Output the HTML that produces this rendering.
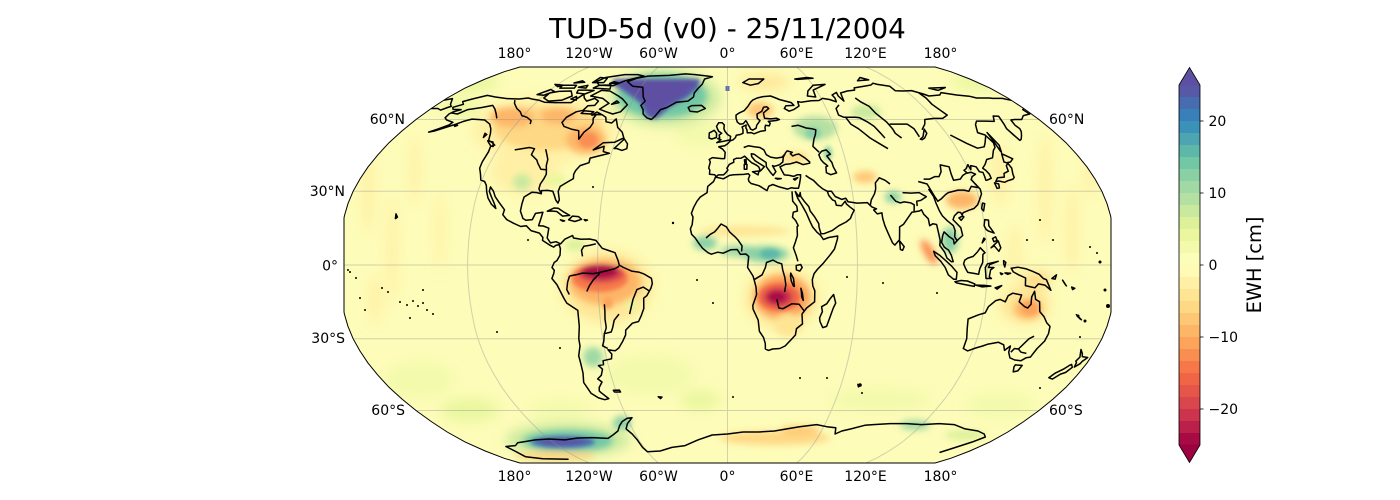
<!DOCTYPE html>
<html><head><meta charset="utf-8">
<style>
html,body{margin:0;padding:0;background:#fff;}
svg{display:block;}
text{font-family:"DejaVu Sans","Liberation Sans",sans-serif;fill:#000;}
</style></head>
<body>
<svg id="svg" width="1400" height="500" viewBox="0 0 1400 500" xmlns="http://www.w3.org/2000/svg">
<defs>
<clipPath id="mc"><path d="M519.9,67 L504.3,71.7 L485.2,79 L465,88.1 L447.2,98 L431.2,108.5 L416,119.5 L401.9,131 L389,142.7 L378,154.7 L368.1,166.8 L359.9,179.1 L353.1,191.3 L348,203.6 L344.4,215.9 L344,218 L344,312 L344.4,314.1 L348,326.4 L353.1,338.7 L359.9,350.9 L368.1,363.2 L378,375.3 L389,387.3 L401.9,399 L416,410.5 L431.2,421.5 L447.2,432 L465,441.9 L485.2,451 L504.3,458.3 L519.9,463 L935.1,463 L950.7,458.3 L969.8,451 L990,441.9 L1007.8,432 L1023.8,421.5 L1039,410.5 L1053.1,399 L1066,387.3 L1077,375.3 L1086.9,363.2 L1095.1,350.9 L1101.9,338.7 L1107,326.4 L1110.6,314.1 L1111,312 L1111,218 L1110.6,215.9 L1107,203.6 L1101.9,191.3 L1095.1,179.1 L1086.9,166.8 L1077,154.7 L1066,142.7 L1053.1,131 L1039,119.5 L1023.8,108.5 L1007.8,98 L990,88.1 L969.8,79 L950.7,71.7 L935.1,67 Z"/></clipPath>
<filter id="b6" x="-50%" y="-50%" width="200%" height="200%"><feGaussianBlur stdDeviation="6"/></filter>
<filter id="b4" x="-50%" y="-50%" width="200%" height="200%"><feGaussianBlur stdDeviation="3.5"/></filter>
<filter id="b2" x="-50%" y="-50%" width="200%" height="200%"><feGaussianBlur stdDeviation="2"/></filter>
</defs>

<text x="727.5" y="38" font-size="27.8" text-anchor="middle">TUD-5d (v0) - 25/11/2004</text>

<g clip-path="url(#mc)">
<rect x="330" y="60" width="800" height="410" fill="#fdfcb8"/>
<g filter="url(#b6)">
<ellipse cx="545" cy="130" rx="72" ry="34" fill="rgb(255,240,165)"/>
<ellipse cx="525" cy="172" rx="35" ry="22" fill="rgb(255,240,165)"/>
<ellipse cx="368" cy="190" rx="6" ry="45" fill="rgb(255,240,165)"/>
<ellipse cx="392" cy="250" rx="5" ry="55" fill="rgb(255,240,165)"/>
<ellipse cx="415" cy="170" rx="5" ry="35" fill="rgb(255,240,165)"/>
<ellipse cx="440" cy="230" rx="4" ry="40" fill="rgb(255,240,165)"/>
<ellipse cx="375" cy="300" rx="6" ry="25" fill="rgb(255,240,165)"/>
<ellipse cx="1045" cy="190" rx="6" ry="55" fill="rgb(255,240,165)"/>
<ellipse cx="1072" cy="230" rx="6" ry="45" fill="rgb(255,240,165)"/>
<ellipse cx="1090" cy="165" rx="5" ry="35" fill="rgb(255,240,165)"/>
<ellipse cx="1015" cy="255" rx="6" ry="30" fill="rgb(255,240,165)"/>
<ellipse cx="1000" cy="175" rx="8" ry="30" fill="rgb(255,240,165)"/>
<ellipse cx="420" cy="380" rx="35" ry="18" fill="rgb(243,250,172)"/>
<ellipse cx="470" cy="410" rx="30" ry="12" fill="rgb(234,247,159)"/>
<ellipse cx="650" cy="375" rx="45" ry="20" fill="rgb(243,250,172)"/>
<ellipse cx="700" cy="400" rx="20" ry="10" fill="rgb(234,247,159)"/>
<ellipse cx="880" cy="400" rx="50" ry="12" fill="rgb(243,250,172)"/>
<ellipse cx="1000" cy="405" rx="35" ry="12" fill="rgb(243,250,172)"/>
<ellipse cx="560" cy="410" rx="30" ry="10" fill="rgb(243,250,172)"/>
<ellipse cx="470" cy="82" rx="30" ry="10" fill="rgb(234,247,159)"/>
<ellipse cx="460" cy="108" rx="20" ry="8" fill="rgb(234,247,159)"/>
<ellipse cx="985" cy="82" rx="35" ry="8" fill="rgb(234,247,159)"/>
<ellipse cx="700" cy="135" rx="25" ry="12" fill="rgb(243,250,172)"/>
<ellipse cx="665" cy="98" rx="55" ry="28" fill="rgb(201,233,158)"/>
<ellipse cx="568" cy="440" rx="62" ry="17" fill="rgb(201,233,158)"/>
<ellipse cx="782" cy="298" rx="36" ry="30" fill="rgb(254,229,148)"/>
<ellipse cx="607" cy="287" rx="45" ry="35" fill="rgb(254,229,148)"/>
<ellipse cx="765" cy="82" rx="25" ry="7" fill="rgb(254,229,148)"/>
<ellipse cx="1025" cy="305" rx="25" ry="18" fill="rgb(254,229,148)"/>
<ellipse cx="1037" cy="280" rx="14" ry="8" fill="rgb(254,216,132)"/>
</g>
<g filter="url(#b4)">
<ellipse cx="662" cy="96" rx="45" ry="22" fill="rgb(114,199,165)"/>
<ellipse cx="548" cy="128" rx="55" ry="22" fill="rgb(254,216,132)"/>
<ellipse cx="512" cy="117" rx="22" ry="10" fill="rgb(253,182,104)"/>
<ellipse cx="558" cy="116" rx="18" ry="8" fill="rgb(253,182,104)"/>
<ellipse cx="586" cy="140" rx="20" ry="14" fill="rgb(253,182,104)"/>
<ellipse cx="605" cy="282" rx="36" ry="23" fill="rgb(253,182,104)"/>
<ellipse cx="575" cy="245" rx="10" ry="6" fill="rgb(220,241,154)"/>
<ellipse cx="632" cy="305" rx="6" ry="6" fill="rgb(234,247,159)"/>
<ellipse cx="593" cy="357" rx="10" ry="10" fill="rgb(160,217,164)"/>
<ellipse cx="782" cy="297" rx="28" ry="22" fill="rgb(252,163,92)"/>
<ellipse cx="705" cy="243" rx="12" ry="7" fill="rgb(137,208,165)"/>
<ellipse cx="740" cy="251" rx="20" ry="6" fill="rgb(160,217,164)"/>
<ellipse cx="765" cy="254" rx="24" ry="8" fill="rgb(137,208,165)"/>
<ellipse cx="745" cy="231" rx="45" ry="5" fill="rgb(254,229,148)"/>
<ellipse cx="788" cy="325" rx="14" ry="12" fill="rgb(254,229,148)"/>
<ellipse cx="760" cy="110" rx="13" ry="8" fill="rgb(254,199,118)"/>
<ellipse cx="795" cy="157" rx="13" ry="5" fill="rgb(254,216,132)"/>
<ellipse cx="815" cy="128" rx="22" ry="12" fill="rgb(181,224,163)"/>
<ellipse cx="866" cy="112" rx="15" ry="7" fill="rgb(201,233,158)"/>
<ellipse cx="865" cy="177" rx="12" ry="6" fill="rgb(254,199,118)"/>
<ellipse cx="893" cy="197" rx="8" ry="6" fill="rgb(137,208,165)"/>
<ellipse cx="962" cy="200" rx="16" ry="9" fill="rgb(253,182,104)"/>
<ellipse cx="950" cy="240" rx="8" ry="13" fill="rgb(137,208,165)"/>
<ellipse cx="929" cy="252" rx="5" ry="14" fill="rgb(249,142,82)" transform="rotate(-30 929 252)"/>
<ellipse cx="1028" cy="309" rx="14" ry="10" fill="rgb(253,182,104)"/>
<ellipse cx="568" cy="441" rx="45" ry="11" fill="rgb(114,199,165)"/>
<ellipse cx="622" cy="423" rx="9" ry="7" fill="rgb(137,208,165)"/>
<ellipse cx="555" cy="456" rx="40" ry="5" fill="rgb(254,216,132)"/>
<ellipse cx="775" cy="438" rx="55" ry="7" fill="rgb(254,216,132)"/>
<ellipse cx="800" cy="430" rx="20" ry="4" fill="rgb(254,199,118)"/>
<ellipse cx="915" cy="425" rx="15" ry="5" fill="rgb(160,217,164)"/>
<ellipse cx="965" cy="435" rx="20" ry="5" fill="rgb(220,241,154)"/>
<ellipse cx="522" cy="182" rx="9" ry="8" fill="rgb(201,233,158)"/>
<ellipse cx="555" cy="180" rx="12" ry="6" fill="rgb(234,247,159)"/>
</g>
<g filter="url(#b2)">
<polygon points="613,79 700,79 698,88 688,97 670,107 656,119 647,117 640,103 625,92 613,85" fill="rgb(87,89,167)"/>
<polygon points="620,80 695,80 685,93 662,108 651,114 644,100 626,88" fill="#5e4fa2"/>
<ellipse cx="600" cy="278" rx="28" ry="14" fill="rgb(246,120,72)"/>
<ellipse cx="601" cy="274" rx="23" ry="9" fill="rgb(218,70,77)"/>
<ellipse cx="600" cy="272" rx="18" ry="6.5" fill="rgb(167,11,68)"/>
<ellipse cx="608" cy="303" rx="5" ry="6" fill="rgb(252,163,92)"/>
<ellipse cx="779" cy="297" rx="21" ry="14" fill="rgb(239,101,69)"/>
<ellipse cx="778" cy="297" rx="14" ry="9" fill="rgb(204,52,77)"/>
<ellipse cx="777" cy="297" rx="9" ry="5.5" fill="rgb(167,11,68)"/>
<ellipse cx="770" cy="254" rx="10" ry="5" fill="rgb(93,184,169)"/>
<ellipse cx="563" cy="442" rx="32" ry="6" fill="rgb(72,108,176)"/>
<ellipse cx="563" cy="442" rx="24" ry="4" fill="rgb(87,89,167)"/>
<ellipse cx="1030" cy="308" rx="8" ry="7" fill="rgb(252,163,92)"/>
<ellipse cx="813" cy="133" rx="8" ry="6" fill="rgb(137,208,165)"/>
<ellipse cx="828" cy="153" rx="4" ry="7" fill="rgb(137,208,165)"/>
<ellipse cx="588" cy="140" rx="10" ry="8" fill="rgb(249,142,82)"/>
</g>
<rect x="725.5" y="86" width="4" height="5" fill="#5e70b0"/>
<g id="grid" fill="none" stroke="#909090" stroke-opacity="0.4" stroke-width="1"></g>
<g id="coast" fill="none" stroke="#000" stroke-width="1.5" stroke-linejoin="round"></g>
<g fill="#000">
<circle cx="350" cy="272" r="1"/><circle cx="356" cy="278" r="1"/><circle cx="360" cy="298" r="1"/><circle cx="365" cy="310" r="1"/>
<circle cx="382" cy="288" r="1"/><circle cx="388" cy="292" r="1"/><circle cx="400" cy="302" r="1"/><circle cx="407" cy="305" r="1"/>
<circle cx="413" cy="301" r="1"/><circle cx="418" cy="306" r="1"/><circle cx="423" cy="303" r="1"/><circle cx="427" cy="310" r="1"/>
<circle cx="433" cy="314" r="1"/><circle cx="423" cy="290" r="1"/><circle cx="410" cy="318" r="1"/><circle cx="497" cy="332" r="1"/>
<circle cx="560" cy="348" r="1"/><circle cx="697" cy="280" r="1"/><circle cx="713" cy="303" r="1"/><circle cx="733" cy="397" r="1"/>
<circle cx="528" cy="240" r="1"/><circle cx="673" cy="223" r="1.2"/><circle cx="593" cy="187" r="1"/><circle cx="348" cy="270" r="1"/>
<circle cx="847" cy="277" r="1"/><circle cx="860" cy="385" r="1.8"/><circle cx="883" cy="283" r="1"/><circle cx="800" cy="378" r="1"/>
<circle cx="827" cy="378" r="1"/><circle cx="862" cy="393" r="1"/><circle cx="937" cy="293" r="1"/><circle cx="1040" cy="388" r="1"/>
<circle cx="1080" cy="337" r="1"/><circle cx="1040" cy="220" r="1"/><circle cx="1053" cy="240" r="1"/><circle cx="1097" cy="253" r="1"/>
<circle cx="1090" cy="247" r="1"/><circle cx="1027" cy="240" r="1"/><circle cx="1100" cy="262" r="1.5"/><circle cx="1105" cy="290" r="1.5"/>
<circle cx="1108" cy="306" r="2"/><circle cx="1078" cy="316" r="1.5"/><circle cx="1085" cy="321" r="1.5"/>
</g>
</g>
<path d="M519.9,67 L504.3,71.7 L485.2,79 L465,88.1 L447.2,98 L431.2,108.5 L416,119.5 L401.9,131 L389,142.7 L378,154.7 L368.1,166.8 L359.9,179.1 L353.1,191.3 L348,203.6 L344.4,215.9 L344,218 L344,312 L344.4,314.1 L348,326.4 L353.1,338.7 L359.9,350.9 L368.1,363.2 L378,375.3 L389,387.3 L401.9,399 L416,410.5 L431.2,421.5 L447.2,432 L465,441.9 L485.2,451 L504.3,458.3 L519.9,463 L935.1,463 L950.7,458.3 L969.8,451 L990,441.9 L1007.8,432 L1023.8,421.5 L1039,410.5 L1053.1,399 L1066,387.3 L1077,375.3 L1086.9,363.2 L1095.1,350.9 L1101.9,338.7 L1107,326.4 L1110.6,314.1 L1111,312 L1111,218 L1110.6,215.9 L1107,203.6 L1101.9,191.3 L1095.1,179.1 L1086.9,166.8 L1077,154.7 L1066,142.7 L1053.1,131 L1039,119.5 L1023.8,108.5 L1007.8,98 L990,88.1 L969.8,79 L950.7,71.7 L935.1,67 Z" fill="none" stroke="#000" stroke-width="1"/>

<g font-size="14" text-anchor="middle">
<text x="514.5" y="58">180°</text><text x="589" y="58">120°W</text><text x="658.5" y="58">60°W</text><text x="727.5" y="58">0°</text><text x="796.5" y="58">60°E</text><text x="865.5" y="58">120°E</text><text x="940.5" y="58">180°</text>
<text x="514.5" y="481">180°</text><text x="589" y="481">120°W</text><text x="658.5" y="481">60°W</text><text x="727.5" y="481">0°</text><text x="796.5" y="481">60°E</text><text x="865.5" y="481">120°E</text><text x="940.5" y="481">180°</text>
</g>
<g font-size="14" text-anchor="end">
<text x="405" y="124">60°N</text><text x="345" y="196">30°N</text><text x="338" y="270.5">0°</text><text x="345" y="343">30°S</text><text x="405" y="415">60°S</text>
</g>
<g font-size="14" text-anchor="start">
<text x="1049" y="124">60°N</text><text x="1049" y="415">60°S</text>
</g>

<g shape-rendering="crispEdges">
<rect x="1179" y="433" width="21" height="12" fill="rgb(167,11,68)"/>
<rect x="1179" y="421" width="21" height="12" fill="rgb(186,32,73)"/>
<rect x="1179" y="409" width="21" height="12" fill="rgb(204,52,77)"/>
<rect x="1179" y="397" width="21" height="12" fill="rgb(218,70,77)"/>
<rect x="1179" y="385" width="21" height="12" fill="rgb(229,86,73)"/>
<rect x="1179" y="373" width="21" height="12" fill="rgb(239,101,69)"/>
<rect x="1179" y="361" width="21" height="12" fill="rgb(246,120,72)"/>
<rect x="1179" y="349" width="21" height="12" fill="rgb(249,142,82)"/>
<rect x="1179" y="337" width="21" height="12" fill="rgb(252,163,92)"/>
<rect x="1179" y="325" width="21" height="12" fill="rgb(253,182,104)"/>
<rect x="1179" y="313" width="21" height="12" fill="rgb(254,199,118)"/>
<rect x="1179" y="301" width="21" height="12" fill="rgb(254,216,132)"/>
<rect x="1179" y="289" width="21" height="12" fill="rgb(254,229,148)"/>
<rect x="1179" y="277" width="21" height="12" fill="rgb(255,240,165)"/>
<rect x="1179" y="265" width="21" height="12" fill="rgb(255,250,182)"/>
<rect x="1179" y="253" width="21" height="12" fill="rgb(251,253,185)"/>
<rect x="1179" y="241" width="21" height="12" fill="rgb(243,250,172)"/>
<rect x="1179" y="229" width="21" height="12" fill="rgb(234,247,159)"/>
<rect x="1179" y="217" width="21" height="12" fill="rgb(220,241,154)"/>
<rect x="1179" y="205" width="21" height="12" fill="rgb(201,233,158)"/>
<rect x="1179" y="193" width="21" height="12" fill="rgb(181,224,163)"/>
<rect x="1179" y="181" width="21" height="12" fill="rgb(160,217,164)"/>
<rect x="1179" y="169" width="21" height="12" fill="rgb(137,208,165)"/>
<rect x="1179" y="157" width="21" height="12" fill="rgb(114,199,165)"/>
<rect x="1179" y="145" width="21" height="12" fill="rgb(93,184,169)"/>
<rect x="1179" y="133" width="21" height="12" fill="rgb(76,165,177)"/>
<rect x="1179" y="121" width="21" height="12" fill="rgb(59,146,185)"/>
<rect x="1179" y="109" width="21" height="12" fill="rgb(57,127,185)"/>
<rect x="1179" y="97" width="21" height="12" fill="rgb(72,108,176)"/>
<rect x="1179" y="85" width="21" height="12" fill="rgb(87,89,167)"/>
</g>
<polygon points="1179,85.5 1200,85.5 1189.5,67.5" fill="#5e4fa2"/>
<polygon points="1179,444.5 1200,444.5 1189.5,462.5" fill="#9e0142"/>
<path d="M1179,85 L1189.5,67.5 L1200,85 L1200,445 L1189.5,462.5 L1179,445 Z" fill="none" stroke="#000" stroke-width="0.8"/>
<g stroke="#000" stroke-width="0.8">
<line x1="1200" y1="121" x2="1203.5" y2="121"/><line x1="1200" y1="193" x2="1203.5" y2="193"/><line x1="1200" y1="265" x2="1203.5" y2="265"/><line x1="1200" y1="337" x2="1203.5" y2="337"/><line x1="1200" y1="409" x2="1203.5" y2="409"/>
</g>
<g font-size="14" text-anchor="start">
<text x="1208.5" y="126">20</text><text x="1208.5" y="198">10</text><text x="1208.5" y="270">0</text><text x="1208.5" y="342">&#8722;10</text><text x="1208.5" y="414">&#8722;20</text>
</g>
<text transform="translate(1261,265) rotate(-90)" font-size="19.4" text-anchor="middle">EWH [cm]</text>
</svg>

<script>
(function(){
var T=[[1,0],[.9986,.062],[.9954,.124],[.99,.186],[.9822,.248],[.973,.31],[.96,.372],[.9427,.434],[.9216,.4958],[.8962,.5571],[.8679,.6176],[.835,.6769],[.7986,.7346],[.7597,.7903],[.7186,.8435],[.6732,.8936],[.6213,.9394],[.5722,.9761],[.5322,1]];
function P(lo,la){var a=Math.min(Math.abs(la),90);var i=Math.min(Math.floor(a/5),17);var f=(a-5*i)/5;var X=T[i][0]+(T[i+1][0]-T[i][0])*f;var Y=T[i][1]+(T[i+1][1]-T[i][1])*f;return [(727.5+390*X*lo/180).toFixed(1),(265-(la<0?-1:1)*198*Y).toFixed(1)];}
function D(a,c){var s='';for(var k=0;k<a.length;k+=2){var p=P(a[k],a[k+1]);s+=(k?'L':'M')+p[0]+' '+p[1];}return s+(c?'Z':'');}
var closed=[
[-141,69.7,-133,69.5,-128,70,-124,69.4,-120,69,-115,68,-108,67.8,-98,67.8,-96,70,-94.5,71.9,-92,70,-89,68.5,-85,69.8,-81.5,68.5,-82,66.5,-86,66.3,-87,64.2,-90.5,63.5,-94,61,-94.5,58.7,-92,57,-87,55.8,-82.3,55.1,-80,51.5,-79,54.5,-77,56.5,-76.7,58.5,-78,60.5,-77.5,62.3,-74,62.2,-71,61,-69.5,59,-66,58.5,-64.5,60.3,-61.5,56.5,-58,54.5,-56,52,-57.5,51.4,-60,50.2,-66,50,-70,47,-65,48.5,-64.5,46.3,-61,45.6,-66,44.5,-70.2,43.6,-70,41.7,-74,40.5,-75.5,38.5,-76,37,-75.5,35.2,-78,33.8,-81,32,-81.4,30,-80.1,26.5,-80.5,25.2,-81.8,26.5,-82.7,28,-84,30,-86.5,30.4,-89.5,30.3,-89.3,29,-91.5,29.5,-94,29.6,-97.2,27.7,-97.5,25,-97.7,22,-96,19,-94.5,18.2,-91.5,18.5,-90.4,21,-87,21.5,-87.5,19,-88.2,16,-86,15.9,-83.3,15,-83.7,11,-82,9,-79.5,9.5,-77.3,8.6,-75.5,10.5,-72,12,-71.5,11,-68,10.5,-64,10.6,-61,10,-58,6.8,-55,5.9,-52,5,-50.5,1.8,-50,0,-48,-1,-44.3,-2.5,-41,-2.9,-38.5,-3.7,-35.2,-5.4,-34.8,-7.5,-35.5,-9.5,-37.5,-12.5,-39,-13.5,-39.2,-17.7,-40.5,-20.5,-42,-23,-45,-23.7,-48.5,-26.5,-48.8,-28.5,-50.5,-31,-53,-33.8,-54.9,-34.9,-56.5,-34.8,-58.4,-34.5,-57,-36.3,-57.6,-38.2,-62,-39,-62.3,-40.6,-65,-41,-63.5,-42.5,-65,-45,-67.5,-46.5,-65.8,-47.8,-68.3,-50.1,-69,-51.6,-68.4,-52.3,-65.5,-54.8,-68,-55.3,-71,-54.5,-74,-52.5,-75.5,-48,-74,-44,-73.5,-40,-73.5,-37,-71.7,-33,-71.5,-30,-70.3,-25,-70.2,-18.5,-75,-15.5,-76.2,-13.5,-79,-8,-81.2,-5.5,-80.3,-3.5,-80,-2.2,-81,-1,-80,1,-78.8,1.8,-77.4,4,-77.3,6.7,-78,8.3,-79.5,8,-80.5,7.3,-82.5,8.2,-85.8,10,-85.7,11.2,-87.5,13,-91.5,14,-94,16,-96.5,15.7,-100,17,-103.5,18.5,-105.7,20.5,-105.3,22.5,-108.5,25.5,-111,27.8,-112.5,30,-114.7,31.8,-114.5,30,-113,28,-111,25.5,-110,24,-109.5,23,-112,24.8,-114.3,27.3,-115.7,29.8,-117,32.5,-118.5,34,-120.6,34.6,-122,37,-123.8,39.5,-124.2,42,-124,46.2,-124.7,48.4,-123,49,-125,50,-128,51,-130,54,-132,56,-135,58,-137.5,58.9,-140,59.8,-144,60,-148,60.2,-151.5,59.2,-154,58,-158,56.5,-162,55,-164.5,54.5,-161,56,-157.5,57.7,-157,58.8,-162,59.8,-164.5,60.8,-165,62.5,-164,63.5,-161,64.5,-166,64.6,-168,65.6,-164,67,-166.8,68.3,-163,69.5,-156.8,71.3,-150,70.5],
[-72.5,78.5,-68,80.5,-61,82,-45,82.5,-33,83.5,-25,83,-15,82,-11.5,81.5,-17,80,-18,77,-20,75,-22,72.5,-22,70.5,-25,68.5,-32,68,-37,65.5,-40.5,64.5,-42.5,61.5,-44,60,-47,60.8,-50,62.5,-51,64.5,-53.5,66.5,-52,68.5,-54.5,70.5,-56,72.5,-58.5,75.5,-66,76],
[-24,65.5,-22,66.4,-16,66.5,-13.5,65,-18,63.4,-22.5,63.8],
[-79,73.5,-71,71,-67,69.5,-62,66.8,-64,63.5,-68,62.5,-72.5,63.5,-77.5,64.7,-74,67.5,-80,69.8,-89,71,-85,73.8],
[-118,72.5,-113,73.3,-105,73.5,-101,71,-105,69,-113,68.5,-118,70],
[-125,71.7,-120,74.3,-116,73.3,-120,71.4],
[-90,76.5,-80,76.3,-75,79,-64,82,-70,83,-80,83,-92,81,-95,78.5],
[-92,75,-80,74.5,-82,76.7,-90,76.6],
[-96,74,-90,73.8,-94,72,-100,72.5,-101,74],
[-115,75,-105,75,-106,76.5,-116,76.6],
[-97,78,-89,78,-90,80.5,-96,81],
[-103,75.5,-97,75,-98,76.5],
[-122,77,-115,76.6,-118,75.8],
[-110,77.8,-103,78.2,-106,79],
[-84,77.5,-78,77.8,-82,78.5],
[-100,69.5,-96,69,-98,70.8],
[-80,62,-75,62.5,-78,63.4],
[-72,67,-68,67.8,-70,68.6],
[-86,64,-80,63.5,-81,62.5,-87,62.8],
[-85,21.9,-82,23.2,-80,23.1,-77,21.5,-74.2,20.2,-77.5,19.9,-80.5,21.8,-83,22],
[-74.5,18.4,-72.8,19.9,-70,19.7,-68.4,18.6,-71.5,17.7],
[-78.3,18.4,-76.3,18,-77,17.8],[-67.2,18.5,-65.6,18.3,-66.5,18],
[-59.4,47.6,-55.5,51.6,-53,49.5,-52.7,47.5,-55,46.8,-58,47.6],
[-128.3,50.8,-125,50.3,-123.3,48.4,-124.7,48.6,-127,50],
[-133,54,-131.5,53.5,-132,52.2],
[-154,57.8,-152.5,57.5,-153.5,57],
[-156,20.8,-155,19.5,-155.8,18.9],
[11,78,16,80,27,80,22,77.5,16,76.6],
[52,71,57,70.5,58,74,69,77,60,76.5,54,73.5],
[50,80,60,81,64,80.5,52,79.8],[95,79,104,79.5,100,81],[138,75,150,75.3,142,73.8],
[47,45,49,46.5,51.5,47,53,45.2,51,44.5,52.8,41.8,53,40,54,37.5,51,36.8,49,37.6,49.3,40,50.3,40.4,48.5,41.8,47.5,43],
[103.7,51.5,106,52.5,109.5,55.8,109.3,54,106.5,52,104.5,51.3],
[12.4,38,15.6,38.3,15.1,36.7],[8.4,41,9.8,41,9.6,39,8.4,39],[8.6,42.9,9.4,43,9.5,41.5,8.8,41.5],[23.5,35.3,26.3,35.2,24.5,35],[32.3,35,34.5,35.6,33,34.6],
[31.7,-0.2,33.8,0.2,34.5,-1,33.4,-2.5,31.8,-2],[29.2,-3.3,30.5,-5.5,31,-8.7,30.5,-8.5,29.5,-6.5,29.1,-4.5],[34,-9.5,34.8,-11.5,35.3,-14.4,34.5,-13,34.3,-11],
[-5.7,50,1.4,51.2,1.7,52.7,0,53.5,-1.5,55,-2,56,-1.8,57.6,-3,58.6,-5,58.6,-6.2,57,-5.5,55.8,-4.8,54.8,-3.2,54,-4.5,53.3,-4.2,52,-5.2,51.7,-3.5,51.3],
[-6,52.2,-6,54,-7.3,55.3,-10,54.2,-10,52,-8.5,51.6],
[113.5,-22,114,-26,115,-30,115,-34,117.5,-35,121,-33.8,124,-33,126,-32.3,131,-31.5,134,-32.5,135.5,-34.8,137.5,-33,138,-35.5,140,-37.8,143,-38.7,146.3,-39,148,-37.8,150,-37.5,151,-34,153,-31,153.5,-28,153,-25,151,-23.5,149,-21,146.5,-19,145.5,-15,143.5,-14,142.5,-10.7,141.5,-13,141.7,-16,140.5,-17.5,139,-17,136,-15,136.7,-12.2,132.5,-11.5,130.5,-12.5,129.5,-15,127,-14,125,-14.5,122,-17,121,-19.5,118,-20.3,114,-21.8],
[144.7,-40.7,148.3,-40.9,148,-43.2,146,-43.6,144.7,-41.5],
[172.7,-34.4,174.5,-36,175.5,-37.3,178.5,-37.7,177,-39.3,176.8,-40.2,175.2,-41.6,174.6,-39.8,173.8,-39.2,174.5,-37.5],
[172.8,-40.5,174.3,-41.7,173,-43.8,171,-44.5,169,-46.6,166.5,-46,168,-44,170.5,-42.5,172,-41],
[131,-1.3,134,-0.9,138,-1.6,141,-2.6,144,-3.8,146,-5.5,147.5,-6,150,-10.3,147,-8.2,144,-7.7,142.5,-9.3,141,-9,138,-8.4,137.8,-5.3,134.5,-4,132,-2.8],
[109.6,2,111,2.8,113.5,3.5,115.5,5.3,117,7,119,5,118,4.3,117.8,1,116.5,-1.5,116,-3.8,114.5,-3.5,111,-3,110,-1.5,109,0.5],
[95.3,5.6,98,4,100.5,2,103.5,-0.5,104.5,-1.5,106,-3,105.8,-5.8,104.5,-5.8,102,-4,100.5,-1,98.5,1.5,96,3.7],
[105.2,-6.8,108,-6.3,111,-6.5,114.5,-7.7,114.3,-8.7,110,-8,106,-7.3],
[115,-8.2,119,-8.3,122,-8.6,118,-8.9],
[119.5,-5.5,119,-1,120,0.5,125,1.5,121,0.2,120.5,-1,123,-1,121.5,-2,121,-4.8,122,-5.5],
[127.5,1.8,128.5,1,128,-0.8,127.5,0.5],[126,-3.2,127.2,-3.6,126.5,-3.9],[128.2,-3.2,130.8,-3.4,129.5,-3.8],
[150,-5.5,152,-4,151.5,-5.8],[155,-6.2,157,-8.5,156,-7.5],[159.5,-9,161,-9.5,160,-10],
[120.6,18.5,122.3,18.3,122,16,124,13,121.5,13.8,120.5,14.5,119.8,16],
[122,7,125.5,9.8,126.5,7,125.5,5.6,123.5,7.8],[123,10.8,124.5,11.5,125,10,123.5,9.5],[118,9,119.5,10.5,119,11],
[121,25.2,122,25,120.8,22,120.1,23],[108.6,19.2,110.5,20,111,19.6,109.5,18.2],
[130.9,34,132.5,35.5,136,35.8,136.8,37.3,139.5,38.2,140,40.5,141.5,41.4,142,39.5,141,37,140.8,35.7,139.8,35,138,34.6,136.8,34.3,135,33.7,132.5,34.2],
[130,33.5,131.8,33,131.4,31.4,130.2,31.2],[140,42,141.5,45.4,145.5,43.3,143.3,42,141,41.7],[142,46,143.5,49,142.7,54.3,142.2,51,141.9,46.5],
[79.8,9.8,81.8,7.5,81,6,80,6.3],
[49.3,-12,50.5,-15.5,49.5,-17.5,48,-22,47,-25,45.2,-25.5,43.7,-23,43.4,-21.5,44.5,-19,44,-17,46.3,-15.8,48,-13.5],
[-61.3,-51.3,-58,-51.2,-57.8,-52,-61,-52],[124,-9.3,127,-8.4,125,-9.8],[164,-20.2,167,-22.3,166,-21.8],[68.8,-48.8,70.5,-49.2,69.5,-49.8],
[-38,-54,-36,-54.2,-37,-54.8]
];
var open=[
[-5.6,36,-6.3,36.8,-8.9,37,-8.8,38.7,-9.4,39.5,-8.7,42,-9.3,43,-7.7,43.8,-3,43.4,-1.5,43.4,-1.2,46,-2.5,47.3,-4.6,48.3,-1.5,48.7,0,49.5,1.6,50.9,3,51.2,4.3,52.2,4.8,53.2,7,53.5,8.5,54,8.6,55.5,8.2,56.8,10.5,57.6,10.3,56.3,10.8,55.6,10.9,54.2,13,54.3,14.5,53.8,18,54.8,21,55.2,21,56.5,21.5,57.5,23.5,57.2,24.3,58.4,23.4,59.2,28,59.6,30,60,28.5,60.6,25,60.3,21.5,60.6,21.4,63,25,65,24,65.8,22,65.6,20.5,63.7,17.5,62.5,17.3,60.6,18.7,59.5,16.5,57.5,16,56.2,14,55.4,12.8,55.8,12.5,56.6,11.5,58,11,59,10.5,59.5,9,58.2,7,58,5.6,58.9,5,60.5,5,62,7,63,10,64,12.5,66,14.5,68,16,69,19,70,23,70.7,28,71,31,70,33,69.3,40,67.8,41,66.5,36,66.3,34.5,65,37,63.8,40,64.5,44,66.2,44.2,68.3,46,68,53,68.7,58,68.8,60.8,69.8,65,69.3,68.5,68.2,69,70,68.5,71.5,72.5,72.8,72,71,73.5,68.5,75,72.5,80.5,73.5,86,74,87,75.1,95,76,101,76.7,104,77.7,106,77,113,76,113,73.6,118,73.5,124,73.7,129,72,131,71,139,71.5,142,72.7,150,71.5,157,70.9,160,70,168,70,170,69.8,176,69.8,180,68.9],
[180,65,178.5,64.5,179,62.5,174,61.8,170,60,166,60,163.5,59.8,162.5,57.5,163,56,162,54.7,160,53,158,51.5,156.7,51,156,53.5,155.6,56,156.8,57.8,159,61.5,156,61.6,153,59.2,148,59.3,143,59.3,140.5,57.8,137.5,54.3,140.5,53.3,141.4,50,140.4,48,138.5,46.8,135.5,43.7,132,43,129.7,41,127.5,39.5,128.5,38.5,129.4,37,129.3,35.3,127,34.6,126.3,34.5,126.5,36,126.6,37.7,125,38,124.5,40,122.2,40.5,121.2,38.8,121,40.9,119,39.2,117.7,38.6,118.8,37.4,120.7,37.8,122.5,37,120.3,36,119.2,34.8,120.8,32.5,121.9,30.9,121.8,29,120,26.5,118.5,24.5,116.5,23,114,22.3,111,21.3,110.3,20.4,109.8,21.4,108.6,21.5,106.6,20,105.7,18.5,106.6,17.5,108.8,15.2,109.3,12,107,10.4,105,8.6,104.8,10.4,103,11.5,100.8,13.5,100,12,99.2,9.2,100.4,7.2,102.3,6,103.4,4,104.2,1.4,103.4,1.3,101.4,2.8,100.4,5.2,98.3,8,98.6,10,98.2,13,97.7,16.5,96,16.8,94.4,16,94.2,18.8,92.3,20.7,91.6,22.5,90.5,22,89,21.8,86.9,21.5,85,19.5,82.3,16.6,80.3,15.5,80,12.5,79.8,10.3,77.5,8.1,76.5,9,74.8,12.8,73.5,16,72.8,19,72.7,21.2,70.5,20.8,69,22.4,70.4,22.9,68.4,23.6,67,24.8,66.5,25.4,61.5,25.2,57.3,25.8,56.4,27.2,54.5,26.7,51.5,27.9,50,30,48,30,48.5,28.3,50,26.5,51.2,26.1,51.6,24.3,54,24.1,56,26,56.4,24.9,57.8,23.7,59.8,22.3,58.5,20.5,57.7,19,55.5,17.5,52,16,48.7,14,45,12.8,43.5,12.7,42.7,15.5,42.7,16.8,41,19.5,39,22,38.5,23.8,36.5,26,35,28,34.9,29.5,34.2,27.8,32.6,29.9,33.5,27.2,35.5,24,37.2,21,38.5,18,39.7,15.5,41.5,13.5,43.3,12,44.5,10.4,47,11.2,51.2,11.8,51,10.5,49.5,6.5,47.5,4.2,44,0.5,41.5,-1.8,40,-3.5,39.2,-6,39.5,-8.5,40.5,-10.5,40.6,-15,37,-17.5,35,-20,35.5,-24,32.8,-25.9,32.5,-28.5,31,-30,28,-33,25.5,-34,22,-34.2,20,-34.8,18.5,-34.2,18.3,-32,17.3,-29.5,15.2,-27,14.5,-22.5,12,-18,11.8,-16.5,13.5,-12,13.2,-9,12.3,-6,11.8,-4.5,9.3,-1,9.5,1,9.8,3.5,8.5,4.5,6,4.3,4.5,6.3,1.5,6.2,-2,4.8,-4.5,5.2,-7.5,4.4,-9,5,-11.5,6.8,-13.2,8.7,-15,11,-16.7,12.5,-17.3,14.7,-16.5,16.5,-16.2,19.5,-17,21,-16,23.5,-14.5,26,-13,27.7,-9.8,29.5,-9.6,32,-6.8,34,-5.9,35.8,-2,35.1,1,36.5,3,36.8,8,36.9,10.3,37.2,11,36.5,10.2,35,10.5,34,11.5,33.2,15.2,32.3,19,30.3,20,32.1,22,32.8,25,31.8,29,30.9,31,31.5,32.3,31.3,34.3,31.3,35,33,35.8,35.5,36.1,36.8,34.5,36.8,32.5,36.1,30.5,36.5,28,36.7,27,38.5,26.3,40,29,41,31.5,41.2,35,42,38,40.9,41.5,41.5,41.6,42,39.8,43.5,38,44.6,36.8,45.3,35,45,33.5,44.5,32.5,45.4,33.6,46,31,46.6,30,45.8,29.6,45.2,28.6,44,28,42,26,40.8,23.5,40.2,22.6,40.5,24,38,22.5,36.5,21.5,37.5,19.5,40,19.5,41.8,16.5,43.5,13.7,45.2,12.3,45.4,12.4,44.2,14,42.5,16,41.4,18.5,40.1,16.6,38.5,15.7,38,16.1,39,15.6,40,14.5,40.7,12.2,41.7,10.5,43,8.8,44.4,7,43.6,4.5,43.5,3.1,43,3.2,41.9,0.9,41,-0.3,39.4,0.2,38.7,-0.8,37.6,-2,36.7,-4.5,36.7,-5.6,36],
[-180,69,-176,69.7,-172,67,-169.7,66,-171,65.5,-173,64.3,-176,65,-179,65,-180,65],
[-130,-86,-150,-85.5,-160,-84,-158,-80,-158,-77.5,-150,-77,-145,-75.5,-140,-75,-130,-74,-120,-73.5,-110,-74,-100,-73,-90,-72.8,-80,-73.2,-75,-71.5,-70,-69.5,-67,-67,-64,-65,-60,-63.5,-57,-63.3,-59,-64.5,-61.5,-66,-64,-68.5,-62,-71,-61,-74,-61,-78,-60,-80.5,-50,-80,-40,-78,-30,-77,-20,-74,-10,-71.5,0,-71,10,-70,20,-70,30,-69.5,37.5,-68.5,45,-67.5,55,-66.5,62,-67.5,68,-68,70,-71,73,-69.5,78,-68.5,85,-66.8,90,-66.5,100,-66,110,-66,120,-66.5,130,-66,140,-66.5,150,-68.5,160,-69.5,167,-71,171,-72.5,168,-75,164,-78,160,-81],
[-73,-4.5,-70,-4,-67,-3.3,-62,-3.5,-60,-3.2,-58,-2.8,-55,-2.2,-52,-1.5,-50,-0.5],
[-73,-4.5,-74,-7,-74.5,-10,-73.5,-12],[-59,-3.4,-62,-6,-64,-8.5,-65.3,-10.8],
[-58.4,-34,-60.7,-32.9,-59.7,-31,-58.9,-28,-57.8,-26,-57.6,-25.3,-57.8,-22,-57.5,-19,-57.5,-16],
[-58.9,-28,-55.5,-27.3,-54.6,-25.6,-53.5,-22.5,-51,-20],
[-36.4,-10.5,-39,-9,-42,-10,-44,-14,-45,-17,-46,-20],[-61,8.6,-64,8,-66.5,7.6,-67.5,6,-67,3.5],
[-89.3,29,-91,31,-91,33,-90,35,-89.5,37,-90.2,38.8,-91,40.5,-91.5,43,-93,45,-95,47.3],
[-90.2,38.8,-93,39,-95.8,41.5,-97,42.8,-101,45,-101,47.5,-104,48,-111,47],
[-135,69,-133,67.5,-128,65,-124,63.5,-121,61.8,-117,61,-113,59.5,-112,58],
[-164.5,63,-160,62.5,-157,64.5,-150,65.5,-145,66.5,-141,64.8,-137,62.5,-134,60.5],
[31,30,31,26,32.8,24,33,22,31,21.5,30.5,19.5,32,18,33,16,32.5,15.6,32.5,12,31.5,9.5,30.5,7,31.7,4,32.5,1.5],
[12.3,-6,16,-4,17.5,-1,18,1,21,2,23,1,25,0.5,25.5,-2,26.5,-5,27,-8,26.5,-11],
[6.5,5.5,6.7,7.8,5,10,3.5,11.5,1,13.5,-0.5,15.5,-3,16.7,-4.5,15,-6,13.5,-8,12.5,-10,11],
[36,-18.8,33.5,-16,30,-15.8,26,-17.8,24,-17.5,23,-14],
[69,66.7,66,65,65.5,62,68,61,75,61,77,60.8,80,59,82.5,57,84,54,85,52],
[69,61,70,58,73,56,75,54,77,52,80,50,84,47.5],
[82,70,84,68,87,66,88,63,91,59,92,56,92,54,94,52],
[92,58,96,58,102,58,104,56,104,52.5],
[127,72.5,127.5,70,127,67,129.5,62,125,60.5,120,60.5,114,60,112,58,108,55.5],
[140.5,53,137,50,135,48.3,131,47.7,127,49.7,121.5,53.3],
[121.5,31.5,118,32,116,30,114,30.5,111,30.5,106,29.5,104.5,28.7,102,27,100,26,99,28,97,33,93,34],
[118.5,37.5,116,36.5,114,35,110.5,34.5,110.5,37,111,40,107,40.8,106,38,104,36,102,36,99,35,96,35],
[88,22,88.5,24.5,87,25.3,84,25.7,82,25.3,80,26,78,28.5],
[89.8,24,90,26,92,26.3,95,27.8,92,29.5,88,29.3,84,29.5],
[67.5,24,68.5,26.5,70.5,29,71.5,31,72,33.5,74.5,35.5,77,34.5,79,33],
[106.5,9.8,105.5,11.5,106,14,105.5,16,103,18,101,20,100,22,99,25,98.5,28,97,31],
[48,30,46,31,44,32.5,42,34.5,40,35.5,38.5,36.5],
[47.5,46,46,47.5,45,48.5,46.5,51.5,48,53.5,49,55.5,47,56,44,56.3,40,57.5,36,57],
[29.5,45.2,28,44,25,43.6,22,44,20,45,19,47,17,48,14,48.3,11,48.7,8.5,48],
[139,-35.5,140,-34,142,-34.2,144,-35.5,147,-36],[142,-34.2,145,-30,147,-29]
];
var s='';
for(var i=0;i<closed.length;i++)s+=D(closed[i],true);
for(var j=0;j<open.length;j++)s+=D(open[j],false);
var NS='http://www.w3.org/2000/svg';
var p=document.createElementNS(NS,'path');p.setAttribute('d',s);document.getElementById('coast').appendChild(p);
var g='';
[-60,-30,0,30,60].forEach(function(la){g+=D([-180,la,180,la],false);});
[-120,-60,0,60,120].forEach(function(lo){var a=[];for(var la=-90;la<=90;la+=2.5){a.push(lo,la);}g+=D(a,false);});
var q=document.createElementNS(NS,'path');q.setAttribute('d',g);document.getElementById('grid').appendChild(q);
})();
</script>
</body></html>
